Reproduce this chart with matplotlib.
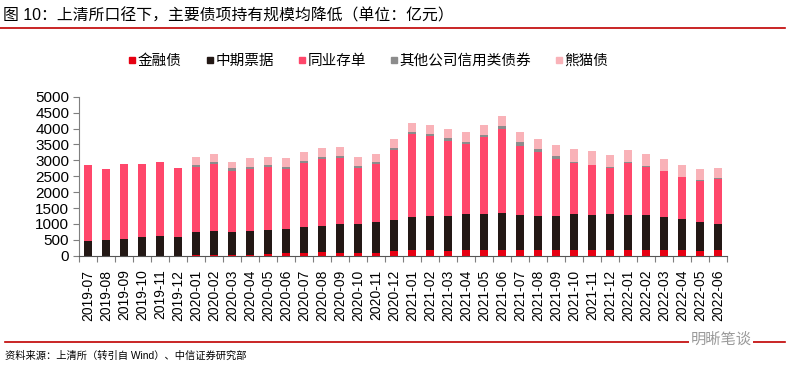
import numpy as np
import matplotlib
matplotlib.use('Agg')
import matplotlib.pyplot as plt
from matplotlib.lines import Line2D

plt.rcParams['font.family'] = ['Liberation Sans', 'Noto Sans CJK SC', 'DejaVu Sans']

# data (亿元)
months = ['2019-07', '2019-08', '2019-09', '2019-10', '2019-11', '2019-12',
          '2020-01', '2020-02', '2020-03', '2020-04', '2020-05', '2020-06',
          '2020-07', '2020-08', '2020-09', '2020-10', '2020-11', '2020-12',
          '2021-01', '2021-02', '2021-03', '2021-04', '2021-05', '2021-06',
          '2021-07', '2021-08', '2021-09', '2021-10', '2021-11', '2021-12',
          '2022-01', '2022-02', '2022-03', '2022-04', '2022-05', '2022-06']

jinrong = [0, 0, 0, 0, 0, 0,
           15, 20, 25, 30, 60, 70, 75, 110, 100, 100, 85, 150,
           175, 175, 155, 170, 170, 170, 170, 170, 165, 165, 170, 170,
           165, 165, 175, 165, 160, 165]
zhongpiao = [470, 505, 535, 585, 605, 585,
             740, 765, 730, 745, 760, 760, 825, 825, 905, 905, 960, 980,
             1040, 1083, 1103, 1140, 1140, 1172, 1119, 1088, 1082, 1145, 1119, 1140,
             1124, 1124, 1041, 988, 899, 831]
tongye = [2380, 2210, 2358, 2298, 2330, 2182,
          2045, 2098, 1907, 1950, 1968, 1895, 2025, 2115, 2077, 1752, 1848, 2180,
          2611, 2505, 2348, 2202, 2411, 2631, 2160, 1992, 1782, 1620, 1560, 1455,
          1640, 1505, 1442, 1316, 1295, 1421]
qita = [0, 0, 0, 0, 0, 0,
        50, 60, 100, 60, 55, 75, 52, 53, 52, 52, 52, 75,
        63, 63, 84, 73, 74, 115, 115, 115, 116, 15, 15, 15,
        15, 15, 15, 15, 15, 15]
xiongmao = [0, 0, 0, 0, 0, 0,
            241, 242, 200, 273, 262, 272, 272, 272, 283, 283, 252, 273,
            272, 273, 283, 304, 314, 315, 325, 304, 335, 398, 420, 400,
            367, 388, 377, 367, 367, 315]

series = [('金融债', jinrong, '#E60012'),
          ('中期票据', zhongpiao, '#231815'),
          ('同业存单', tongye, '#FF476B'),
          ('其他公司信用类债券', qita, '#8C8C8C'),
          ('熊猫债', xiongmao, '#F9B2B8')]

fig = plt.figure(figsize=(7.97, 3.74), dpi=100)
ax = fig.add_axes([0.0991, 0.3163, 0.8129, 0.4251])

x = np.arange(len(months))
bottom = np.zeros(len(months))
for name, vals, col in series:
    ax.bar(x, vals, 0.42, bottom=bottom, color=col, label=name, zorder=2)
    bottom += np.array(vals)

ax.set_xlim(-0.5, len(months) - 0.5)
ax.set_ylim(0, 5000)
ax.set_yticks(np.arange(0, 5001, 500))
ax.tick_params(axis='y', labelsize=11, length=4, width=0.8, color='#7f7f7f', pad=3)
ax.set_xticks(x)
ax.set_xticklabels(months, rotation=90, fontsize=10)
ax.tick_params(axis='x', length=0, pad=10)
ax.set_xticks(np.arange(-0.5, len(months)), minor=True)
ax.tick_params(axis='x', which='minor', length=4, width=0.8, color='#7f7f7f')
for s in ['top', 'right']:
    ax.spines[s].set_visible(False)
ax.spines['left'].set_color('#7f7f7f')
ax.spines['bottom'].set_color('#555555')

handles = [Line2D([], [], marker='s', linestyle='none', markersize=5,
                  markerfacecolor=c, markeredgecolor=c) for _, _, c in series]
fig.legend(handles, [s[0] for s in series], loc='center', bbox_to_anchor=(0.461, 0.837),
           ncol=5, frameon=False, fontsize=10.5, handletextpad=0.0, columnspacing=1.5,
           handlelength=0.8)

# title, source and rules
fig.text(0.004, 0.958, '图 10：上清所口径下，主要债项持有规模均降低（单位：亿元）',
         fontsize=11.4, va='center', ha='left')
fig.add_artist(Line2D([0.0, 0.985], [0.925, 0.925], color='#C00000', lw=1.2))
fig.add_artist(Line2D([0.006, 0.985], [0.086, 0.086], color='#C00000', lw=1.2))
fig.text(0.006, 0.048, '资料来源：上清所（转引自 Wind）、中信证券研究部',
         fontsize=7.4, va='center', ha='left')
fig.text(0.905, 0.092, '明晰笔谈', fontsize=11, color='#9a9a9a', va='center', ha='center',
         bbox=dict(facecolor='white', edgecolor='none', pad=1))

fig.savefig('out.png', dpi=100)
